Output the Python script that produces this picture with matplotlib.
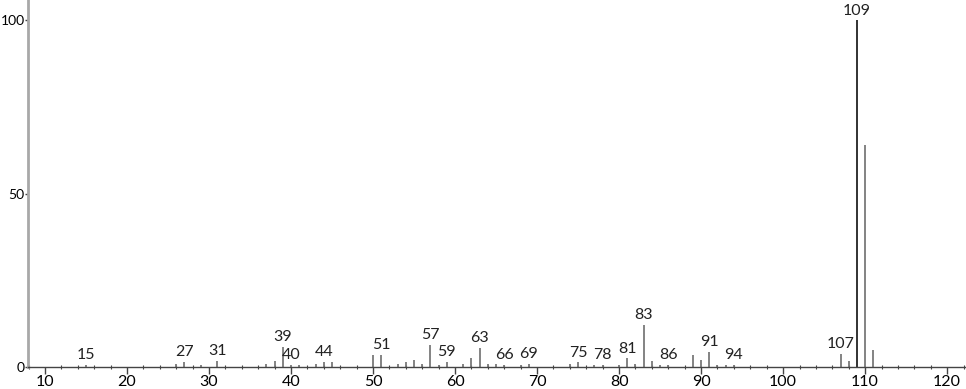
import matplotlib.pyplot as plt
from matplotlib.ticker import MultipleLocator

plt.rcParams["font.family"] = ["Lato", "DejaVu Sans"]

# m/z values and relative intensities
mz = [15, 26, 27, 29, 31, 37, 38, 39, 40, 41, 43, 44, 45, 50, 51, 53, 54, 55,
      56, 57, 58, 59, 61, 62, 63, 64, 65, 66, 68, 69, 74, 75, 77, 78, 80, 81,
      82, 83, 84, 85, 86, 89, 90, 91, 92, 93, 94, 107, 108, 109, 110, 111]
intensity = [0.5, 0.8, 1.5, 0.5, 1.8, 0.8, 1.8, 5.8, 0.5, 0.5, 0.8, 1.5, 1.5,
             3.5, 3.5, 0.8, 1.5, 2.0, 0.8, 6.3, 0.5, 1.5, 1.0, 2.5, 5.6, 1.0,
             1.0, 0.5, 0.5, 0.8, 0.8, 1.3, 0.5, 0.5, 0.5, 2.5, 0.8, 12.2, 1.6,
             0.5, 0.5, 3.5, 2.0, 4.4, 0.5, 0.5, 0.5, 3.8, 1.8, 100.0, 64.0, 4.9]
labelled = [15, 27, 31, 39, 40, 44, 51, 57, 59, 63, 66, 69, 75, 78, 81, 83,
            86, 91, 94, 107, 109]

fig = plt.figure(figsize=(9.66, 3.89), dpi=100)
ax = fig.add_axes([0.029, 0.0566, 0.971, 0.9434])

colors = ["#222222" if m == 109 else "#7a7a7a" for m in mz]
ax.vlines(mz, 0, intensity, colors=colors, linewidth=1.3)

for m, h in zip(mz, intensity):
    if m in labelled:
        ax.annotate(str(m), (m, h), xytext=(0, 2), textcoords="offset points",
                    ha="center", va="bottom", fontsize=11.5, color="#222222")

ax.set_xlim(7.93, 122.3)
ax.set_ylim(0, 105.9)
ax.set_xticks(range(10, 121, 10))
ax.xaxis.set_minor_locator(MultipleLocator(2))
ax.set_yticks([0, 50, 100])

ax.spines["top"].set_visible(False)
ax.spines["right"].set_visible(False)
ax.spines["left"].set_color("#a8a8a8")
ax.spines["left"].set_linewidth(2)
ax.spines["bottom"].set_color("#444444")
ax.spines["bottom"].set_linewidth(1)

ax.tick_params(axis="x", which="major", direction="out", length=5, width=1,
               color="#444444", labelsize=11.5, pad=1)
ax.tick_params(axis="x", which="minor", direction="inout", length=3, width=0.8,
               color="#444444")
ax.tick_params(axis="y", direction="out", length=2.5, width=1, color="#444444",
               labelsize=10, pad=0)

fig.savefig("out.png", dpi=100)
